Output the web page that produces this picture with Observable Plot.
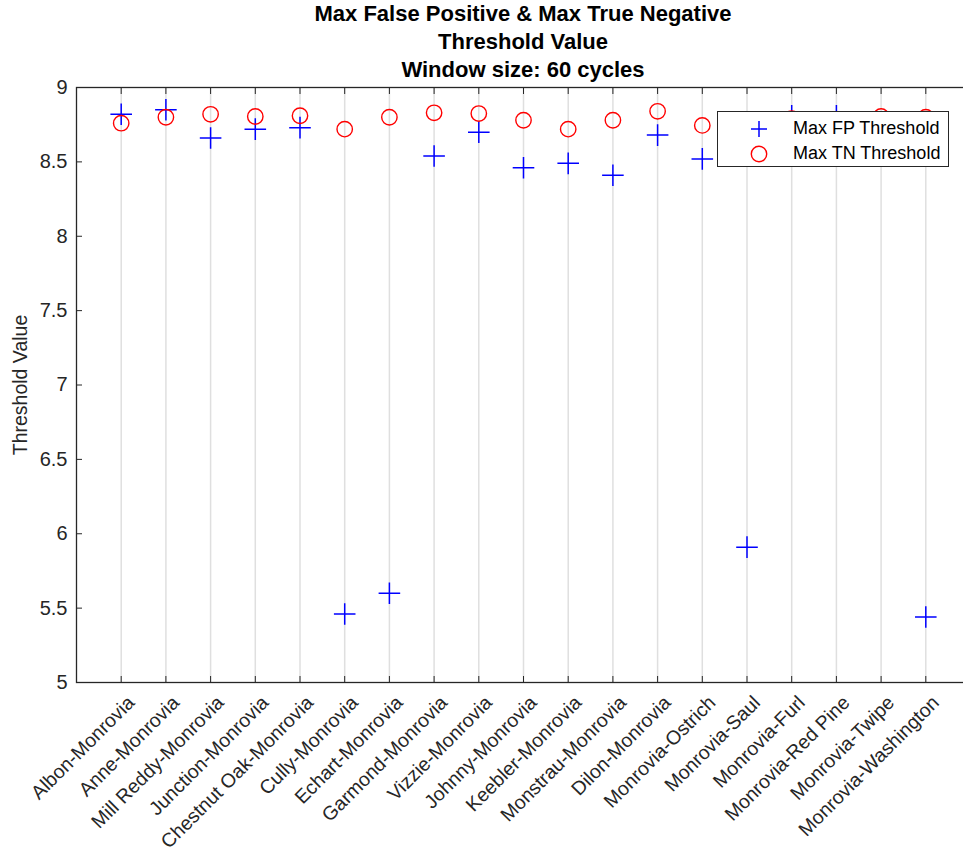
<!DOCTYPE html>
<html>
<head>
<meta charset="utf-8">
<script src="https://cdn.jsdelivr.net/npm/d3@7"></script>
<script src="https://cdn.jsdelivr.net/npm/@observablehq/plot@0.6"></script>
<style>
html, body { margin: 0; padding: 0; background: #fff; overflow: hidden; width: 963px; height: 853px; }
body { position: relative; font-family: "Liberation Sans", Arial, sans-serif; }
#title { height: 80px; box-sizing: border-box; padding-left: 83px; text-align: center; font-weight: bold; font-size: 22px; line-height: 28px; color: #000; }
#title div { white-space: nowrap; }
#legend { position: absolute; left: 717px; top: 111px; width: 232px; height: 56px; box-sizing: border-box; border: 1px solid #262626; background: #fff; font-size: 18px; color: #000; }
#legend .row { position: absolute; left: 0; height: 25px; display: flex; align-items: center; }
#legend svg { display: block; }
#legend span { margin-left: 22px; white-space: nowrap; }
#chart svg { max-width: none !important; display: block; }
</style>
</head>
<body>
<div id="title"></div>
<div id="chart"></div>
<div id="legend"></div>
<script>
// ---- data ----
const titleLines = ["Max False Positive & Max True Negative", "Threshold Value", "Window size: 60 cycles"];
const yLabel = "Threshold Value";
const categories = [
  "Albon-Monrovia", "Anne-Monrovia", "Mill Reddy-Monrovia", "Junction-Monrovia",
  "Chestnut Oak-Monrovia", "Cully-Monrovia", "Echart-Monrovia", "Garmond-Monrovia",
  "Vizzie-Monrovia", "Johnny-Monrovia", "Keebler-Monrovia", "Monstrau-Monrovia",
  "Dilon-Monrovia", "Monrovia-Ostrich", "Monrovia-Saul", "Monrovia-Furl",
  "Monrovia-Red Pine", "Monrovia-Twipe", "Monrovia-Washington"
];
const maxFP = [8.82, 8.85, 8.66, 8.72, 8.73, 5.46, 5.60, 8.54, 8.70, 8.46, 8.49, 8.41, 8.68, 8.52, 5.91, 8.81, 8.81, 8.70, 5.44];
const maxTN = [8.76, 8.80, 8.82, 8.805, 8.81, 8.72, 8.80, 8.83, 8.825, 8.78, 8.72, 8.78, 8.84, 8.745, 8.78, 8.79, 8.78, 8.805, 8.80];
const yTicks = [5, 5.5, 6, 6.5, 7, 7.5, 8, 8.5, 9];
const seriesNames = ["Max FP Threshold", "Max TN Threshold"];

// ---- title ----
document.getElementById("title").innerHTML = titleLines.map(t => `<div>${t.replace(/&/g, "&amp;")}</div>`).join("");

// ---- chart ----
const rows = categories.map((c, i) => ({cat: c, fp: maxFP[i], tn: maxTN[i]}));
const axisColor = "#262626";

const chart = Plot.plot({
  width: 971,
  height: 773,
  marginTop: 7,
  marginBottom: 171,
  marginLeft: 76,
  marginRight: 1,
  style: {fontFamily: "Liberation Sans, Arial, sans-serif", fontSize: "20px", color: axisColor, background: "white", overflow: "visible"},
  x: {type: "point", domain: categories, padding: 1, round: false, axis: null},
  y: {domain: [5, 9], axis: null},
  marks: [
    Plot.ruleX(categories, {x: d => d, stroke: axisColor, strokeOpacity: 0.15, strokeWidth: 1.5}),
    Plot.axisY({anchor: "left", ticks: yTicks, tickFormat: d => `${d}`, tickSize: 0, tickPadding: 9, fontSize: 20, label: null, fill: axisColor}),
    Plot.axisY({anchor: "left", ticks: yTicks, tickSize: -6, text: null, label: null, stroke: axisColor}),
    Plot.axisY({anchor: "right", ticks: yTicks, tickSize: -6, text: null, label: null, stroke: axisColor}),
    Plot.axisX({anchor: "bottom", tickSize: -6, text: null, label: null, stroke: axisColor}),
    Plot.axisX({anchor: "top", tickSize: -6, text: null, label: null, stroke: axisColor}),
    Plot.text(categories, {x: d => d, frameAnchor: "bottom", rotate: -45, textAnchor: "end", lineAnchor: "middle", dx: 10, dy: 17, fontSize: 19.5, fill: axisColor}),
    Plot.text([yLabel], {frameAnchor: "left", rotate: -90, textAnchor: "middle", lineAnchor: "middle", dx: -56, fontSize: 19.5, fill: axisColor}),
    Plot.frame({stroke: axisColor, strokeWidth: 1.3}),
    Plot.dot(rows, {x: "cat", y: "fp", symbol: "plus", r: 7, stroke: "#0000ff", fill: "none", strokeWidth: 1.5}),
    Plot.dot(rows, {x: "cat", y: "tn", symbol: "circle", r: 7.7, stroke: "#ff0000", fill: "none", strokeWidth: 1.4})
  ]
});
document.getElementById("chart").appendChild(chart);

// ---- legend ----
const legend = document.getElementById("legend");
const plusSvg = `<svg width="24" height="24" viewBox="-12 -12 24 24"><path d="M-8,0H8M0,-8V8" stroke="#0000ff" stroke-width="1.5" fill="none"/></svg>`;
const circSvg = `<svg width="24" height="24" viewBox="-12 -12 24 24"><circle r="7.7" stroke="#ff0000" stroke-width="1.4" fill="none"/></svg>`;
legend.innerHTML =
  `<div class="row" style="top:4px;left:29px">${plusSvg}<span>${seriesNames[0]}</span></div>` +
  `<div class="row" style="top:29px;left:29px">${circSvg}<span>${seriesNames[1]}</span></div>`;
</script>
</body>
</html>
